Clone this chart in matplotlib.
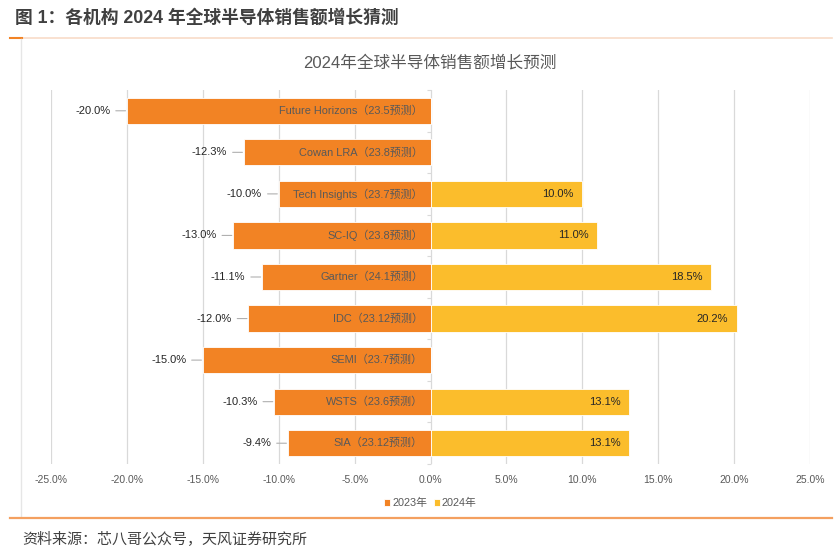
import matplotlib.pyplot as plt
import matplotlib.lines as mlines
import numpy as np

plt.rcParams['font.family'] = ['Liberation Sans', 'Noto Sans CJK SC']

# data (top to bottom)
agencies = ["Future Horizons（23.5预测）", "Cowan LRA（23.8预测）", "Tech Insights（23.7预测）",
            "SC-IQ（23.8预测）", "Gartner（24.1预测）", "IDC（23.12预测）",
            "SEMI（23.7预测）", "WSTS（23.6预测）", "SIA（23.12预测）"]
growth_2023 = [-20.0, -12.3, -10.0, -13.0, -11.1, -12.0, -15.0, -10.3, -9.4]
growth_2024 = [None, None, 10.0, 11.0, 18.5, 20.2, None, 13.1, 13.1]
xticks = [-25, -20, -15, -10, -5, 0, 5, 10, 15, 20, 25]

c23 = '#F28324'
c24 = '#FBBD2C'
txt = '#595959'

fig = plt.figure(figsize=(8.35, 5.52), dpi=100)
ax = fig.add_axes([51/835, 1-464/552, (810-51)/835, (464-90)/552])

y = np.arange(len(agencies))
ax.barh(y, growth_2023, height=0.63, color=c23, edgecolor='white', linewidth=0.6, label='2023年', zorder=3)
v24 = [v if v is not None else 0 for v in growth_2024]
ax.barh(y, v24, height=0.63, color=c24, edgecolor='white', linewidth=0.6, label='2024年', zorder=3)

for i, (name, a, b) in enumerate(zip(agencies, growth_2023, growth_2024)):
    ax.text(-0.5, i, name, ha='right', va='center', fontsize=7.9, color=txt, zorder=4)
    ax.annotate(f"{a:.1f}%", xy=(a, i), xytext=(-12, 0), textcoords='offset points',
                ha='right', va='center', fontsize=8, color='#262626',
                arrowprops=dict(arrowstyle='-', color='#B0B0B0', lw=0.8, shrinkA=2, shrinkB=1))
    if b is not None:
        ax.text(b - 0.6, i, f"{b:.1f}%", ha='right', va='center', fontsize=8, color='#262626', zorder=4)

ax.set_xlim(-25, 25)
ax.set_ylim(len(agencies) - 0.5, -0.5)
ax.set_xticks(xticks)
ax.set_xticklabels([f"{t:.1f}%" for t in xticks], fontsize=7.5, color=txt)
ax.tick_params(axis='x', length=0, pad=8)
ax.grid(axis='x', color='#D9D9D9', lw=0.9, zorder=0)
for s in ax.spines.values():
    s.set_visible(False)
ax.spines['left'].set_position(('data', 0))
ax.set_yticks(np.arange(len(agencies) + 1) - 0.5)
ax.set_yticklabels([])
ax.tick_params(axis='y', length=3, color='#D9D9D9', direction='out')

ax.legend(loc='upper center', bbox_to_anchor=(0.5, -0.065), ncol=2, frameon=False,
          fontsize=7.8, handlelength=0.55, handleheight=0.55, handletextpad=0.2,
          columnspacing=0.6, labelcolor=txt)

fig.text(430/835, 1-63/552, "2024年全球半导体销售额增长预测", ha='center', va='center',
         fontsize=12, color=txt)

# report frame
fig.text(15/835, 1-18/552, "图 1：各机构 2024 年全球半导体销售额增长猜测", ha='left', va='center',
         fontsize=12.8, fontweight='bold', color='#404040')
fig.add_artist(mlines.Line2D([10/835, 832/835], [1-38/552, 1-38/552], color='#F8DCC8', lw=1.2))
fig.add_artist(mlines.Line2D([10/835, 22/835], [1-38/552, 1-38/552], color='#F28324', lw=1.5))
fig.add_artist(mlines.Line2D([21/835, 21/835], [1-39/552, 1-517/552], color='#E6E6E6', lw=1))
fig.add_artist(mlines.Line2D([10/835, 832/835], [1-518/552, 1-518/552], color='#F4A060', lw=1.6))
fig.text(22/835, 1-540/552, "资料来源：芯八哥公众号，天风证券研究所", ha='left', va='center',
         fontsize=10.8, color='#404040')

fig.savefig('out.png', dpi=100)
